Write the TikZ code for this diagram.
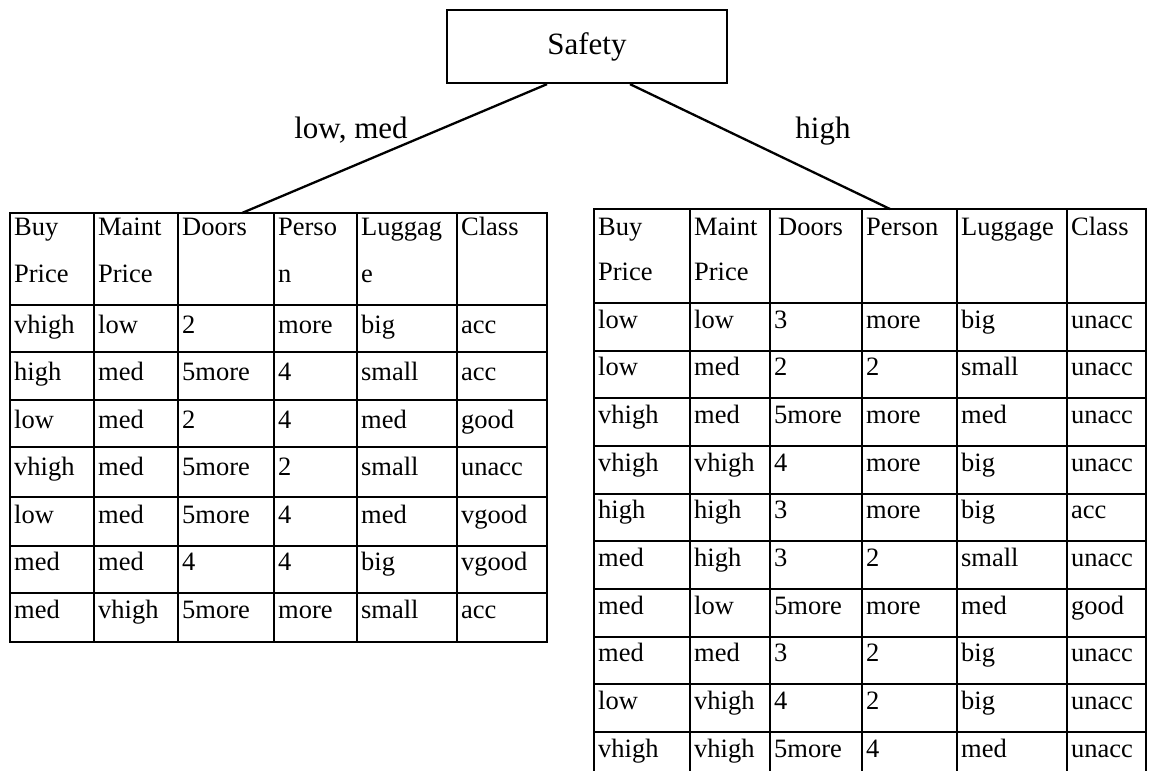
\documentclass[tikz,border=0pt]{standalone}
\usepackage{fontspec}
\setmainfont{Liberation Serif}
\usetikzlibrary{calc}
\begin{document}
\begin{tikzpicture}[x=1pt,y=-1pt,line width=2.3pt,
  cell/.style={anchor=base west,inner sep=0pt,font=\fontsize{26.5}{30}\selectfont},
  branch/.style={anchor=base,inner sep=0pt,font=\fontsize{31}{36}\selectfont},
  rootbox/.style={draw,minimum width=280pt,minimum height=73pt,inner sep=0pt,
                  font=\fontsize{31}{36}\selectfont}]
\useasboundingbox (0,0) rectangle (1149,771);

% root node
\node[rootbox] (safety) at (587,46.5) {Safety};

% attachment points on the tables' top edges
\coordinate (lefttop) at (242,213);
\coordinate (righttop) at (890,209);

% branches
\draw ($(safety.south)+(-40,0)$) -- (lefttop);
\draw ($(safety.south)+(43,0)$) -- (righttop);
\node[branch] (lowmed) at (351,138) {low, med};
\node[branch] (high) at (823,138) {high};

% ---------- left table ----------
\draw (10,213) rectangle (547,642);
\foreach \x in {94,178,274,357,457} \draw (\x,213) -- (\x,642);
\foreach \y in {305,352,400,447,497,546,593} \draw (10,\y) -- (547,\y);

\node[cell] (lh1a) at (13,235) {Buy};
\node[cell] (lh1b) at (13,282) {Price};
\node[cell] (lh2a) at (97,235) {Maint};
\node[cell] (lh2b) at (97,282) {Price};
\node[cell] (lh3) at (181,235) {Doors};
\node[cell] (lh4a) at (277,235) {Perso};
\node[cell] (lh4b) at (277,282) {n};
\node[cell] (lh5a) at (360,235) {Luggag};
\node[cell] (lh5b) at (360,282) {e};
\node[cell] (lh6) at (460,235) {Class};

\foreach \row [count=\i from 0] in {
  {vhigh,low,2,more,big,acc},
  {high,med,5more,4,small,acc},
  {low,med,2,4,med,good},
  {vhigh,med,5more,2,small,unacc},
  {low,med,5more,4,med,vgood},
  {med,med,4,4,big,vgood},
  {med,vhigh,5more,more,small,acc}} {
  \foreach \txt [count=\j from 0] in \row {
    \pgfmathsetmacro{\cx}{{13,97,181,277,360,460}[\j]}
    \pgfmathsetmacro{\cy}{333+47.5*\i}
    \node[cell] (l-\i-\j) at (\cx,\cy) {\txt};
  }
}

% ---------- right table ----------
\begin{scope}
\clip (0,0) rectangle (1149,771);
\draw (594,209) rectangle (1146,779.7);
\foreach \x in {690,770,862,957,1067} \draw (\x,209) -- (\x,779.7);
\foreach \y in {303,350.7,398.3,446,493.7,541.3,589,636.7,684.3,732} \draw (594,\y) -- (1146,\y);
\end{scope}

\node[cell] (rh1a) at (597,235) {Buy};
\node[cell] (rh1b) at (597,280) {Price};
\node[cell] (rh2a) at (693,235) {Maint};
\node[cell] (rh2b) at (693,280) {Price};
\node[cell] (rh3) at (777,235) {Doors};
\node[cell] (rh4) at (865,235) {Person};
\node[cell] (rh5) at (960,235) {Luggage};
\node[cell] (rh6) at (1070,235) {Class};

\foreach \row [count=\i from 0] in {
  {low,low,3,more,big,unacc},
  {low,med,2,2,small,unacc},
  {vhigh,med,5more,more,med,unacc},
  {vhigh,vhigh,4,more,big,unacc},
  {high,high,3,more,big,acc},
  {med,high,3,2,small,unacc},
  {med,low,5more,more,med,good},
  {med,med,3,2,big,unacc},
  {low,vhigh,4,2,big,unacc},
  {vhigh,vhigh,5more,4,med,unacc}} {
  \foreach \txt [count=\j from 0] in \row {
    \pgfmathsetmacro{\cx}{{597,693,773,865,960,1070}[\j]}
    \pgfmathsetmacro{\cy}{328+47.7*\i}
    \node[cell] (r-\i-\j) at (\cx,\cy) {\txt};
  }
}
\end{tikzpicture}
\end{document}
